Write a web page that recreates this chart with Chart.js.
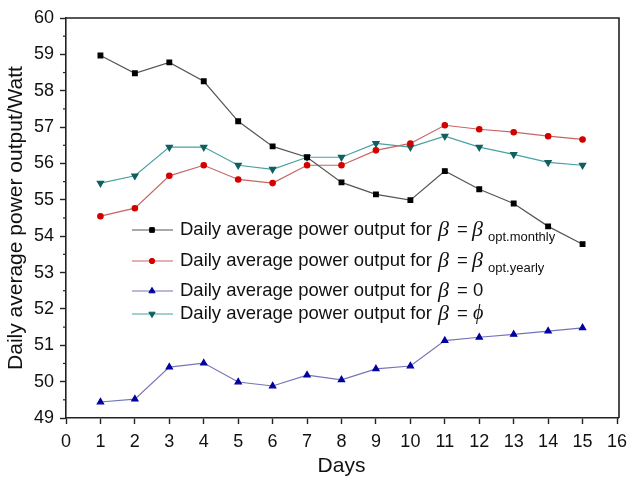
<!DOCTYPE html>
<html>
<head>
<meta charset="utf-8">
<script src="https://cdn.jsdelivr.net/npm/chart.js@4/dist/chart.umd.min.js"></script>
<style>
  html, body { margin: 0; padding: 0; background: #fff; }
  #wrap { width: 627px; height: 477px; }
</style>
</head>
<body>
<div id="wrap"><canvas id="powerChart"></canvas></div>
<script>
// Data
const days = [1, 2, 3, 4, 5, 6, 7, 8, 9, 10, 11, 12, 13, 14, 15];
const betaMonthly = [58.97, 58.48, 58.78, 58.26, 57.16, 56.47, 56.17, 55.48, 55.15, 54.99, 55.79, 55.29, 54.90, 54.27, 53.78];
const betaYearly = [54.55, 54.77, 55.66, 55.95, 55.56, 55.46, 55.95, 55.95, 56.36, 56.55, 57.05, 56.94, 56.86, 56.75, 56.66];
const betaZero = [49.44, 49.52, 50.40, 50.51, 49.99, 49.88, 50.18, 50.05, 50.35, 50.43, 51.13, 51.22, 51.30, 51.39, 51.48];
const betaPhi = [55.46, 55.66, 56.45, 56.45, 55.95, 55.84, 56.17, 56.17, 56.55, 56.45, 56.75, 56.45, 56.25, 56.03, 55.95];
const xTicks = [0, 1, 2, 3, 4, 5, 6, 7, 8, 9, 10, 11, 12, 13, 14, 15, 16];
const yTicks = [49, 50, 51, 52, 53, 54, 55, 56, 57, 58, 59, 60];

const legendSubs = ['opt.monthly', 'opt.yearly', '0', '\u03D5'];

function toPoints(vals) {
    return vals.map((v, i) => ({ x: days[i], y: v }));
}

const sansFont = '"Liberation Sans", Arial, Helvetica, sans-serif';
const serifItalic = 'italic 22px "Liberation Serif", "DejaVu Serif", serif';

// frame on top/right + minor ticks on the y axis
const framePlugin = {
    id: 'frame',
    afterDraw(chart) {
        const { ctx, chartArea: a, scales } = chart;
        ctx.save();
        ctx.strokeStyle = '#222';
        ctx.lineWidth = 1.6;
        ctx.beginPath();
        ctx.moveTo(a.left, a.top);
        ctx.lineTo(a.right + 2, a.top);
        ctx.lineTo(a.right + 2, a.bottom);
        ctx.stroke();
        ctx.lineWidth = 1.2;
        for (let v = yTicks[0] + 0.5; v < yTicks[yTicks.length - 1]; v += 1) {
            const y = scales.y.getPixelForValue(v);
            ctx.beginPath();
            ctx.moveTo(a.left - 3, y);
            ctx.lineTo(a.left, y);
            ctx.stroke();
        }
        // bottom axis runs on to the right frame
        ctx.lineWidth = 1.6;
        ctx.beginPath();
        ctx.moveTo(a.right, a.bottom);
        ctx.lineTo(a.right + 2, a.bottom);
        ctx.stroke();
        ctx.restore();
    }
};

// legend with greek letters and subscripts
const legendPlugin = {
    id: 'mathLegend',
    afterDatasetsDraw(chart) {
        const { ctx } = chart;
        const rowsY = [230, 261, 291, 314];
        ctx.save();
        chart.data.datasets.forEach((ds, i) => {
            const y = rowsY[i];
            ctx.strokeStyle = ds.borderColor;
            ctx.lineWidth = 1.2;
            ctx.beginPath();
            ctx.moveTo(132, y);
            ctx.lineTo(173, y);
            ctx.stroke();
            ctx.fillStyle = ds.pointBackgroundColor;
            ctx.strokeStyle = ds.pointBorderColor;
            ctx.lineWidth = 1;
            Chart.helpers.drawPoint(ctx, {
                pointStyle: ds.pointStyle,
                radius: ds.pointRadius,
                rotation: ds.pointRotation || 0,
                borderWidth: 1
            }, 152, y);

            ctx.fillStyle = '#111';
            ctx.textBaseline = 'middle';
            ctx.textAlign = 'left';
            ctx.font = '18.5px ' + sansFont;
            ctx.fillText('Daily average power output for', 180, y);
            ctx.font = serifItalic;
            ctx.fillText('\u03B2', 438, y);
            ctx.font = '18.5px ' + sansFont;
            ctx.fillText('=', 457, y);
            if (i < 2) {
                ctx.font = serifItalic;
                ctx.fillText('\u03B2', 472, y);
                ctx.font = '13px ' + sansFont;
                ctx.fillText(legendSubs[i], 488, y + 7);
            } else if (i === 2) {
                ctx.font = '18.5px ' + sansFont;
                ctx.fillText(legendSubs[i], 473, y);
            } else {
                ctx.font = 'italic 20px "Liberation Serif", "DejaVu Serif", serif';
                ctx.fillText(legendSubs[i], 473, y);
            }
        });
        ctx.restore();
    }
};

const ctx = document.getElementById('powerChart').getContext('2d');
const powerChart = new Chart(ctx, {
    type: 'line',
    data: {
        datasets: [
            {
                label: 'beta opt.monthly',
                data: toPoints(betaMonthly),
                borderColor: '#555555',
                pointBackgroundColor: '#000000',
                pointBorderColor: '#000000',
                pointStyle: 'rect',
                pointRadius: 3.3,
                borderWidth: 1.2
            },
            {
                label: 'beta opt.yearly',
                data: toPoints(betaYearly),
                borderColor: '#c86464',
                pointBackgroundColor: '#d40000',
                pointBorderColor: '#d40000',
                pointStyle: 'circle',
                pointRadius: 2.7,
                borderWidth: 1.2
            },
            {
                label: 'beta 0',
                data: toPoints(betaZero),
                borderColor: '#7474b8',
                pointBackgroundColor: '#0000a0',
                pointBorderColor: '#0000a0',
                pointStyle: 'triangle',
                pointRadius: 3.6,
                borderWidth: 1.2
            },
            {
                label: 'beta phi',
                data: toPoints(betaPhi),
                borderColor: '#4aa0a0',
                pointBackgroundColor: '#106060',
                pointBorderColor: '#106060',
                pointStyle: 'triangle',
                pointRotation: 180,
                rotation: 180,
                pointRadius: 3.6,
                borderWidth: 1.2
            }
        ]
    },
    plugins: [framePlugin, legendPlugin],
    options: {
        responsive: true,
        maintainAspectRatio: false,
        animation: false,
        layout: { padding: { top: 18, right: 10, left: 0, bottom: 0 } },
        plugins: {
            legend: { display: false },
            tooltip: { enabled: false }
        },
        scales: {
            x: {
                type: 'linear',
                min: 0,
                max: 16,
                afterFit: scale => {
                    scale.height = 59;
                    scale.paddingLeft = 0;
                    scale.paddingRight = 0;
                },
                afterBuildTicks: scale => { scale.ticks = xTicks.map(v => ({ value: v })); },
                ticks: { color: '#111', padding: 7, font: { family: sansFont, size: 18 } },
                grid: { drawOnChartArea: false, drawTicks: true, tickLength: 6, color: '#222', tickWidth: 1.4 },
                border: { display: true, color: '#222', width: 1.6 },
                title: {
                    display: true,
                    text: 'Days',
                    color: '#111',
                    padding: { top: 0, bottom: -2 },
                    font: { family: sansFont, size: 21 }
                }
            },
            y: {
                min: 49,
                max: 60,
                afterFit: scale => {
                    scale.width = 66;
                    scale.paddingTop = 0;
                    scale.paddingBottom = 0;
                },
                afterBuildTicks: scale => { scale.ticks = yTicks.map(v => ({ value: v })); },
                ticks: { color: '#111', padding: 6, font: { family: sansFont, size: 18 } },
                grid: { drawOnChartArea: false, drawTicks: true, tickLength: 6, color: '#222', tickWidth: 1.4 },
                border: { display: true, color: '#222', width: 1.6 },
                title: {
                    display: true,
                    text: 'Daily average power output/Watt',
                    color: '#111',
                    padding: { top: 4, bottom: 0 },
                    font: { family: sansFont, size: 21 }
                }
            }
        }
    }
});
</script>
</body>
</html>
